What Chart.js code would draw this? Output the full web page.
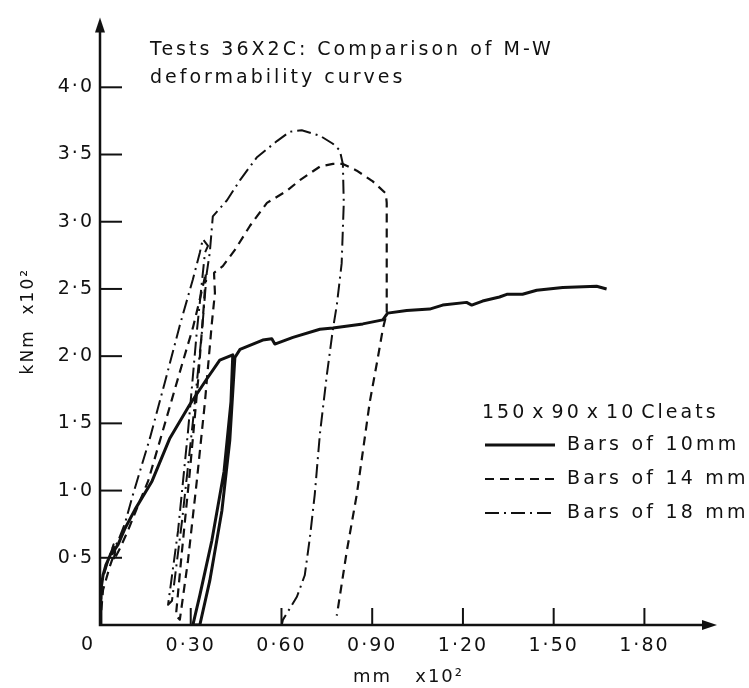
<!DOCTYPE html>
<html><head><meta charset="utf-8">
<script src="https://cdn.jsdelivr.net/npm/chart.js@4.4.0/dist/chart.umd.min.js"></script>
<style>html,body{margin:0;padding:0;background:#fff;} canvas{display:block;}</style>
</head><body>
<canvas id="c" width="749" height="688"></canvas>
<script>
// ---- text ----
const titleLines = ['Tests 36X2C: Comparison of M-W', 'deformability curves'];
const legendTitle = '150 x 90 x 10 Cleats';
const seriesNames = ['Bars of 10mm', 'Bars of 14 mm', 'Bars of 18 mm'];
const xAxisTitle = 'mm   x10\u00B2';
const yAxisTitle = 'kNm  x10\u00B2';

// ---- ticks ----
const xTicks = [0, 0.3, 0.6, 0.9, 1.2, 1.5, 1.8];
const yTicks = [0.5, 1.0, 1.5, 2.0, 2.5, 3.0, 3.5, 4.0];

// ---- series: Bars of 10 mm (solid) ----
const bars10X = [0, 0.003, 0.010, 0.020, 0.030, 0.045, 0.040, 0.060, 0.083, 0.116, 0.172, 0.231, 0.297, 0.353, 0.396, 0.439, 0.433, 0.410, 0.370, 0.330, 0.307, 0.330, 0.363, 0.403, 0.429, 0.446, 0.463, 0.538, 0.568, 0.578, 0.638, 0.727, 0.770, 0.869, 0.935, 0.951, 1.014, 1.090, 1.133, 1.212, 1.229, 1.265, 1.321, 1.345, 1.397, 1.444, 1.530, 1.642, 1.675];
const bars10Y = [0, 0.26, 0.37, 0.45, 0.50, 0.58, 0.53, 0.60, 0.72, 0.86, 1.07, 1.39, 1.64, 1.83, 1.97, 2.01, 1.66, 1.14, 0.63, 0.22, 0, 0, 0.33, 0.85, 1.37, 1.99, 2.05, 2.12, 2.13, 2.09, 2.14, 2.20, 2.21, 2.24, 2.27, 2.32, 2.34, 2.35, 2.38, 2.40, 2.38, 2.41, 2.44, 2.46, 2.46, 2.49, 2.51, 2.52, 2.50];

// ---- series: Bars of 14 mm (dashed) ----
const bars14X = [0, 0.010, 0.033, 0.050, 0.045, 0.066, 0.092, 0.126, 0.159, 0.198, 0.238, 0.274, 0.307, 0.334, 0.350, 0.344, 0.324, 0.297, 0.271, 0.251, 0.264, 0.291, 0.320, 0.347, 0.370, 0.380, 0.377, 0.406, 0.446, 0.496, 0.552, 0.618, 0.661, 0.727, 0.770, 0.803, 0.849, 0.902, 0.945, 0.948, 0.948, 0.948, 0.935, 0.918, 0.892, 0.869, 0.849, 0.816, 0.783];
const bars14Y = [0, 0.26, 0.44, 0.55, 0.48, 0.57, 0.70, 0.89, 1.07, 1.37, 1.68, 1.96, 2.21, 2.46, 2.62, 2.40, 1.81, 1.14, 0.55, 0.07, 0.04, 0.48, 1.07, 1.66, 2.25, 2.47, 2.62, 2.67, 2.79, 2.97, 3.14, 3.23, 3.31, 3.41, 3.43, 3.43, 3.38, 3.30, 3.21, 3.14, 2.40, 2.32, 2.20, 1.98, 1.66, 1.29, 0.97, 0.55, 0.07];

// ---- series: Bars of 18 mm (dash-dot) ----
const bars18X = [0, 0.007, 0.033, 0.045, 0.040, 0.059, 0.083, 0.109, 0.165, 0.215, 0.264, 0.307, 0.330, 0.340, 0.357, 0.347, 0.320, 0.291, 0.258, 0.225, 0.238, 0.271, 0.307, 0.337, 0.353, 0.363, 0.373, 0.420, 0.463, 0.519, 0.585, 0.628, 0.667, 0.727, 0.770, 0.793, 0.803, 0.806, 0.799, 0.783, 0.770, 0.750, 0.727, 0.710, 0.694, 0.677, 0.651, 0.605, 0.601];
const bars18Y = [0, 0.33, 0.52, 0.60, 0.55, 0.62, 0.76, 0.97, 1.39, 1.81, 2.23, 2.57, 2.77, 2.87, 2.82, 2.77, 2.18, 1.44, 0.70, 0.15, 0.18, 0.77, 1.51, 2.18, 2.62, 2.77, 3.04, 3.16, 3.31, 3.48, 3.60, 3.67, 3.68, 3.64, 3.58, 3.53, 3.43, 3.14, 2.69, 2.38, 2.20, 1.86, 1.42, 0.97, 0.65, 0.37, 0.21, 0.04, 0];

const INK = '#111';
const FONT = '"DejaVu Sans", sans-serif';
const fmt = (v, d) => v.toFixed(d).replace('.', '\u00B7');
const pts = (xs, ys) => xs.map((x, i) => ({x: x, y: ys[i]}));

const styles = [
  {borderWidth: 3, borderDash: []},
  {borderWidth: 2.2, borderDash: [9, 6]},
  {borderWidth: 2, borderDash: [14, 5, 2, 5]}
];

const decor = {
  id: 'decor',
  beforeLayout(chart) { chart.ctx.letterSpacing = '2px'; },
  beforeDraw(chart) {
    const c = chart.ctx;
    c.save(); c.fillStyle = '#fff'; c.fillRect(0, 0, chart.width, chart.height); c.restore();
    c.letterSpacing = '2px';
  },
  afterDraw(chart) {
    const {ctx, chartArea: a, scales: {x, y}} = chart;
    ctx.save();
    ctx.strokeStyle = INK; ctx.fillStyle = INK; ctx.lineCap = 'butt';
    // axes
    ctx.lineWidth = 2.5;
    ctx.beginPath(); ctx.moveTo(a.left, a.top + 8); ctx.lineTo(a.left, a.bottom); ctx.lineTo(a.right - 8, a.bottom); ctx.stroke();
    // inner ticks
    ctx.lineWidth = 2;
    yTicks.forEach(v => { const py = y.getPixelForValue(v); ctx.beginPath(); ctx.moveTo(a.left, py); ctx.lineTo(a.left + 22, py); ctx.stroke(); });
    xTicks.slice(1).forEach(v => { const px = x.getPixelForValue(v); ctx.beginPath(); ctx.moveTo(px, a.bottom); ctx.lineTo(px, a.bottom - 17); ctx.stroke(); });
    // arrow heads
    ctx.beginPath(); ctx.moveTo(a.left, a.top); ctx.lineTo(a.left - 5, a.top + 15); ctx.lineTo(a.left + 5, a.top + 15); ctx.closePath(); ctx.fill();
    ctx.beginPath(); ctx.moveTo(a.right, a.bottom); ctx.lineTo(a.right - 15, a.bottom - 5); ctx.lineTo(a.right - 15, a.bottom + 5); ctx.closePath(); ctx.fill();
    // origin label
    ctx.font = '19px ' + FONT; ctx.textBaseline = 'middle'; ctx.textAlign = 'center';
    ctx.letterSpacing = '0px';
    ctx.fillText('0', x.getPixelForValue(0) - 13, a.bottom + 20);
    // title
    ctx.letterSpacing = '3px'; ctx.textAlign = 'left';
    ctx.fillText(titleLines[0], 150, 50);
    ctx.fillText(titleLines[1], 150, 78);
    // legend
    ctx.wordSpacing = '-4px';
    ctx.fillText(legendTitle, 482, 413);
    ctx.wordSpacing = '0px';
    ctx.letterSpacing = '3.2px';
    const rowsY = [445, 479, 513];
    chart.data.datasets.forEach((ds, i) => {
      ctx.save();
      ctx.lineWidth = ds.borderWidth; ctx.setLineDash(ds.borderDash);
      ctx.beginPath(); ctx.moveTo(485, rowsY[i]); ctx.lineTo(555, rowsY[i]); ctx.stroke();
      ctx.restore();
      ctx.fillText(ds.label, 567, rowsY[i]);
    });
    ctx.restore();
  }
};

new Chart(document.getElementById('c'), {
  type: 'scatter',
  data: {
    datasets: [
      {label: seriesNames[0], data: pts(bars10X, bars10Y)},
      {label: seriesNames[1], data: pts(bars14X, bars14Y)},
      {label: seriesNames[2], data: pts(bars18X, bars18Y)}
    ].map((d, i) => Object.assign(d, styles[i], {
      showLine: true, pointRadius: 0, pointHoverRadius: 0, borderColor: INK,
      backgroundColor: INK, fill: false, tension: 0, borderJoinStyle: 'round'
    }))
  },
  options: {
    responsive: false, animation: false,
    layout: {padding: {top: 12, right: 32, left: 0, bottom: 0}},
    plugins: {legend: {display: false}, tooltip: {enabled: false}},
    scales: {
      x: {
        type: 'linear', min: 0, max: 2.04,
        afterBuildTicks: s => { s.ticks = xTicks.map(v => ({value: v})); },
        afterFit: s => { s.height = 63; },
        grid: {display: false, drawTicks: false}, border: {display: false},
        ticks: {color: INK, font: {family: FONT, size: 19}, padding: 10, maxRotation: 0, autoSkip: false,
          callback: v => v === 0 ? '' : fmt(v, 2)},
        title: {display: true, text: xAxisTitle, color: INK, font: {family: FONT, size: 18}, padding: {top: 0, bottom: 0}}
      },
      y: {
        type: 'linear', min: 0, max: 4.52,
        afterBuildTicks: s => { s.ticks = yTicks.map(v => ({value: v})); },
        afterFit: s => { s.width = 100; },
        grid: {display: false, drawTicks: false}, border: {display: false},
        ticks: {color: INK, font: {family: FONT, size: 19}, padding: 6, autoSkip: false,
          callback: v => fmt(v, 1)},
        title: {display: true, text: yAxisTitle, color: INK, font: {family: FONT, size: 17}, padding: {top: 18, bottom: 0}}
      }
    }
  },
  plugins: [decor]
});
</script>
</body></html>
